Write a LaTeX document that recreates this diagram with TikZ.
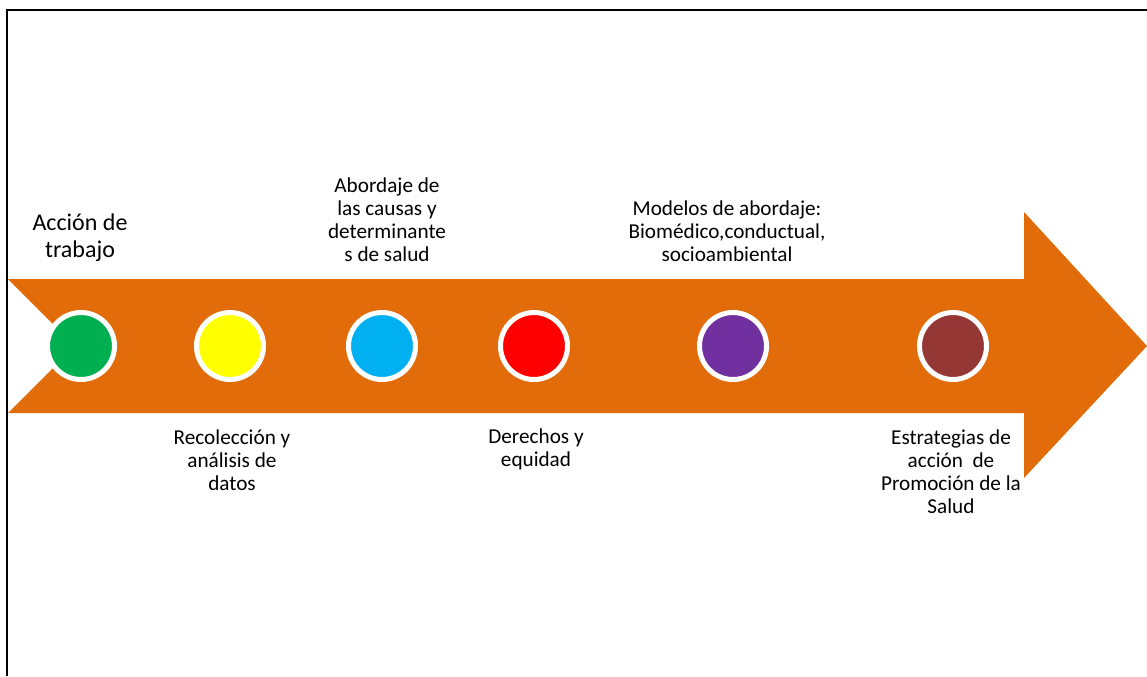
\documentclass[tikz,border=0pt]{standalone}
\usepackage{fontspec}
\setmainfont{Carlito}
\definecolor{arroworange}{HTML}{E36C0A}
\definecolor{cgreen}{HTML}{00B050}
\definecolor{cyellow}{HTML}{FFFF00}
\definecolor{cblue}{HTML}{00B0F0}
\definecolor{cred}{HTML}{FF0000}
\definecolor{cpurple}{HTML}{7030A0}
\definecolor{cbrown}{HTML}{953735}
\begin{document}
\begin{tikzpicture}[x=0.75pt,y=-0.75pt,
  dot/.style={circle,draw=white,line width=3.75pt,minimum size=67*0.75pt,inner sep=0pt},
  lbl/.style={align=center,inner sep=0pt,font=\fontsize{15.9pt}{17.25pt}\selectfont},
  biglbl/.style={align=center,inner sep=0pt,font=\fontsize{18pt}{20.25pt}\selectfont}]
\useasboundingbox (0,0) rectangle (1147,676);
\fill[white] (0,0) rectangle (1147,676);
% frame
\draw[line width=1.6pt] (7,676) -- (7,10) -- (1147,10);
% arrow
\fill[arroworange] (8,279) -- (1024,279) -- (1024,212) -- (1147,346) -- (1024,478) -- (1024,413) -- (8,413) -- (75,346) -- cycle;
% circles
\node[dot,fill=cgreen] (c1) at (81,346) {};
\node[dot,fill=cyellow] (c2) at (230,346) {};
\node[dot,fill=cblue] (c3) at (382,346) {};
\node[dot,fill=cred] (c4) at (534,346) {};
\node[dot,fill=cpurple] (c5) at (733,346) {};
\node[dot,fill=cbrown] (c6) at (953,346) {};
% labels
\node[biglbl] (t1) at (80,238) {Acción de\\trabajo};
\node[lbl] (t3) at (387,220) {Abordaje de\\las causas y\\determinante\\s de salud};
\node[lbl] (t5) at (727,231) {Modelos de abordaje:\\Biomédico,conductual,\\socioambiental};
\node[lbl] (t2) at (232,460) {Recolección y\\análisis de\\datos};
\node[lbl] (t4) at (536,449) {Derechos y\\equidad};
\node[lbl] (t6) at (951,472) {Estrategias de\\acción~~de\\Promoción de la\\Salud};
\end{tikzpicture}
\end{document}
